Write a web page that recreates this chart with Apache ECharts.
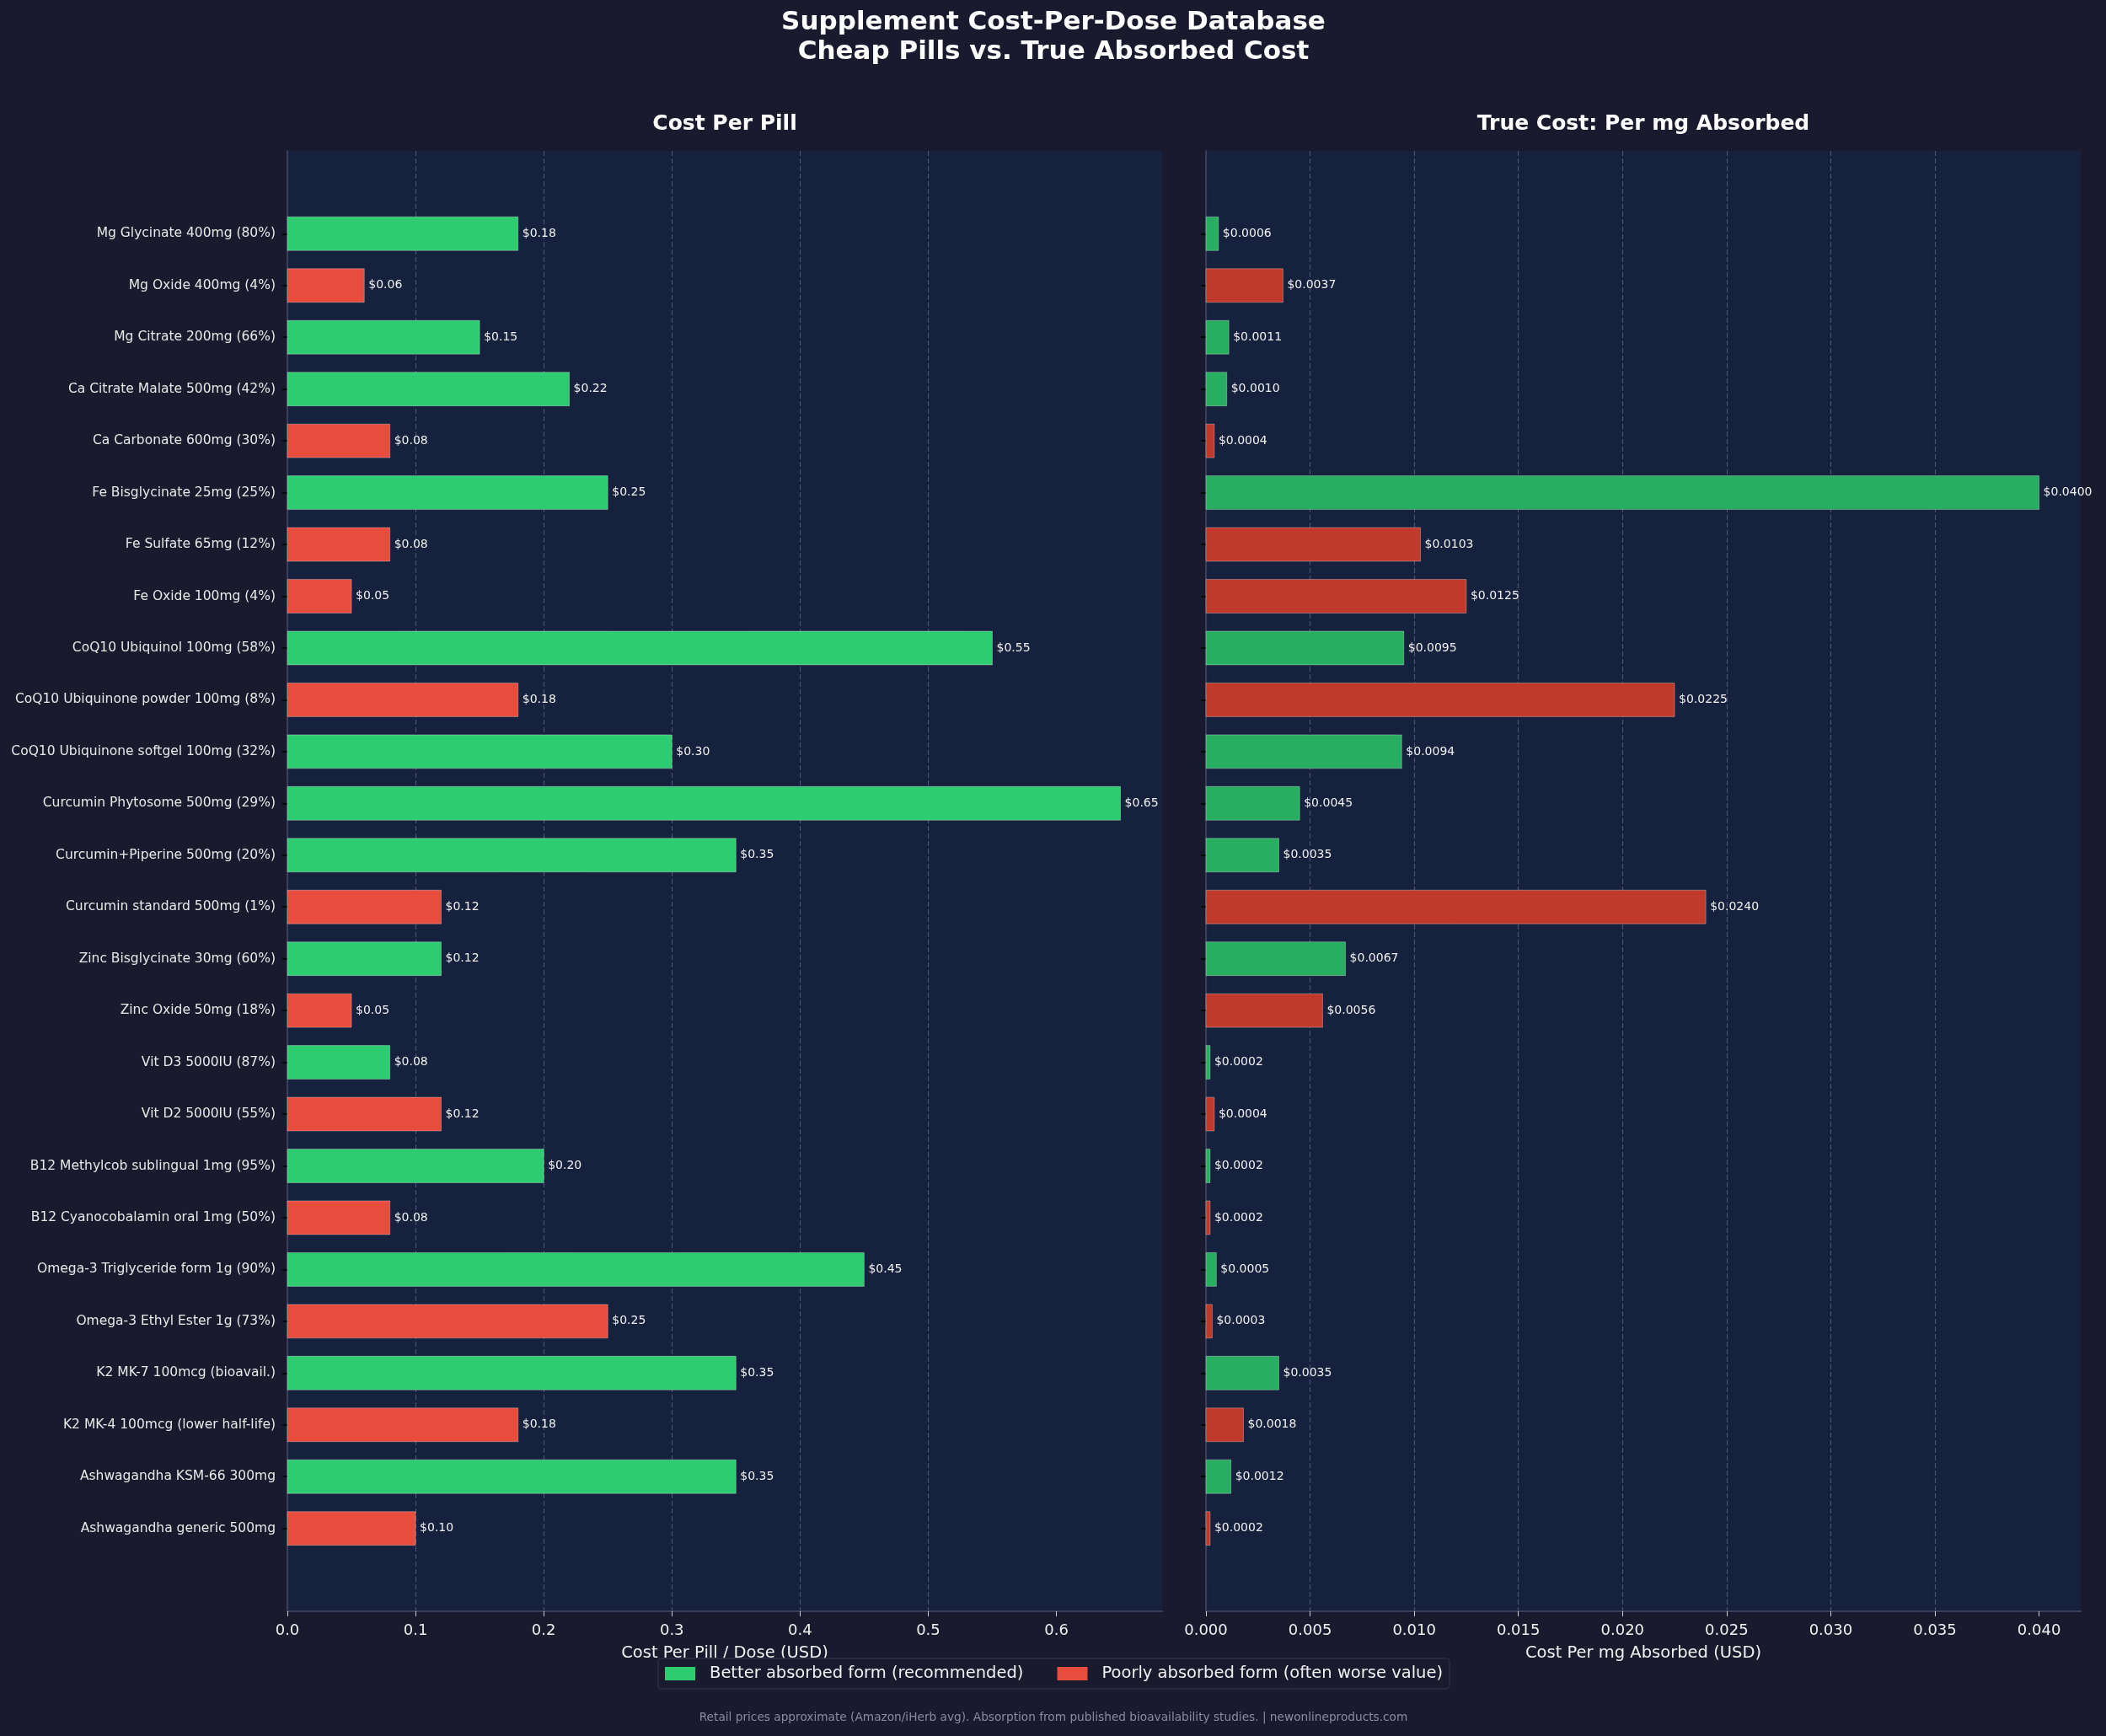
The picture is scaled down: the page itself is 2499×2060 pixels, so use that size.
<!DOCTYPE html>
<html>
<head>
<meta charset="utf-8">
<script src="https://cdn.jsdelivr.net/npm/echarts@6/dist/echarts.min.js"></script>
<style>
  html, body { margin: 0; padding: 0; background: #1a1a2e; }
  #chart { width: 2499px; height: 2060px; }
</style>
</head>
<body>
<div id="chart"></div>
<script>
const names = [
  "Mg Glycinate 400mg (80%)",
  "Mg Oxide 400mg (4%)",
  "Mg Citrate 200mg (66%)",
  "Ca Citrate Malate 500mg (42%)",
  "Ca Carbonate 600mg (30%)",
  "Fe Bisglycinate 25mg (25%)",
  "Fe Sulfate 65mg (12%)",
  "Fe Oxide 100mg (4%)",
  "CoQ10 Ubiquinol 100mg (58%)",
  "CoQ10 Ubiquinone powder 100mg (8%)",
  "CoQ10 Ubiquinone softgel 100mg (32%)",
  "Curcumin Phytosome 500mg (29%)",
  "Curcumin+Piperine 500mg (20%)",
  "Curcumin standard 500mg (1%)",
  "Zinc Bisglycinate 30mg (60%)",
  "Zinc Oxide 50mg (18%)",
  "Vit D3 5000IU (87%)",
  "Vit D2 5000IU (55%)",
  "B12 Methylcob sublingual 1mg (95%)",
  "B12 Cyanocobalamin oral 1mg (50%)",
  "Omega-3 Triglyceride form 1g (90%)",
  "Omega-3 Ethyl Ester 1g (73%)",
  "K2 MK-7 100mcg (bioavail.)",
  "K2 MK-4 100mcg (lower half-life)",
  "Ashwagandha KSM-66 300mg",
  "Ashwagandha generic 500mg"
];
const pillCost = [0.18, 0.06, 0.15, 0.22, 0.08, 0.25, 0.08, 0.05, 0.55, 0.18, 0.30, 0.65, 0.35,
  0.12, 0.12, 0.05, 0.08, 0.12, 0.20, 0.08, 0.45, 0.25, 0.35, 0.18, 0.35, 0.10];
const absorbedCost = [0.0006, 0.0037, 0.0011, 0.0010, 0.0004, 0.0400, 0.0103, 0.0125, 0.0095, 0.0225,
  0.0094, 0.0045, 0.0035, 0.0240, 0.0067, 0.0056, 0.0002, 0.0004, 0.0002, 0.0002, 0.0005, 0.0003,
  0.0035, 0.0018, 0.0012, 0.0002];
// 1 = better absorbed form, 0 = poorly absorbed
const betterForm = [1, 0, 1, 1, 0, 1, 0, 0, 1, 0, 1, 1, 1, 0, 1, 0, 1, 0, 1, 0, 1, 0, 1, 0, 1, 0];
const pillTicks = [0, 0.1, 0.2, 0.3, 0.4, 0.5, 0.6];
const absorbedTicks = [0, 0.005, 0.01, 0.015, 0.02, 0.025, 0.03, 0.035, 0.04];

const GOOD = "Better absorbed form (recommended)";
const POOR = "Poorly absorbed form (often worse value)";
const FONT = '"DejaVu Sans", "Liberation Sans", sans-serif';
const rowIdx = names.map((n, i) => i);

const chart = echarts.init(document.getElementById("chart"), null, { renderer: "canvas" });

function pick(values, flag) {
  return values.map((v, i) => [v, i]).filter((d) => betterForm[d[1]] === flag);
}

function barRenderer(decimals) {
  return (params, api) => {
    const v = api.value(0);
    const i = api.value(1);
    const a = api.coord([0, i - 0.325]);
    const b = api.coord([v, i + 0.325]);
    const y = Math.min(a[1], b[1]);
    const h = Math.abs(b[1] - a[1]);
    return {
      type: "group",
      children: [
        {
          type: "rect",
          shape: { x: a[0], y: y, width: b[0] - a[0], height: h },
          style: { fill: api.visual("color"), stroke: "rgba(255,255,255,0.3)", lineWidth: 1 },
        },
        {
          type: "text",
          x: b[0] + 5,
          y: y + h / 2,
          style: {
            text: "$" + v.toFixed(decimals),
            fill: "#f0f0f0",
            fontSize: 14,
            fontFamily: FONT,
            align: "left",
            verticalAlign: "middle",
          },
        },
      ],
    };
  };
}

function xAxisFor(gridIndex, max, ticks, digits, title) {
  return {
    type: "value",
    gridIndex: gridIndex,
    min: 0,
    max: max,
    axisLine: { show: true, onZero: false, lineStyle: { color: "#3b3d5c", width: 2 } },
    axisTick: { show: true, customValues: ticks, length: 6, lineStyle: { color: "#d0d0d0" } },
    axisLabel: {
      customValues: ticks,
      formatter: (v) => v.toFixed(digits),
      color: "#f0f0f0",
      fontSize: 18,
      fontFamily: FONT,
      margin: 14,
    },
    splitLine: {
      show: true,
      showMaxLine: false,
      lineStyle: { color: "#4a5272", type: [6, 3], width: 1.2 },
    },
    name: title,
    nameLocation: "middle",
    nameGap: 50,
    nameTextStyle: { color: "#f0f0f0", fontSize: 19.5, fontFamily: FONT, verticalAlign: "middle" },
  };
}

function yAxisFor(gridIndex, showLabels) {
  return {
    type: "value",
    gridIndex: gridIndex,
    inverse: true,
    min: -1.6,
    max: 26.6,
    axisLine: { show: true, lineStyle: { color: "#3b3d5c", width: 2 } },
    axisTick: { show: true, customValues: rowIdx, length: 6, lineStyle: { color: "#000000", width: 1.5 } },
    axisLabel: {
      show: showLabels,
      customValues: rowIdx,
      formatter: (v) => names[Math.round(v)] || "",
      color: "#e8e8e8",
      fontSize: 15.5,
      fontFamily: FONT,
      margin: 14,
    },
    splitLine: { show: false },
  };
}

function barSeries(name, axisIndex, values, flag, color, decimals) {
  return {
    type: "custom",
    name: name,
    xAxisIndex: axisIndex,
    yAxisIndex: axisIndex,
    data: pick(values, flag),
    encode: { x: 0, y: 1 },
    itemStyle: { color: color },
    renderItem: barRenderer(decimals),
    clip: false,
    silent: true,
  };
}

const option = {
  backgroundColor: "#1a1a2e",
  animation: false,
  title: [
    {
      text: "Supplement Cost-Per-Dose Database\nCheap Pills vs. True Absorbed Cost",
      left: 1250,
      top: 9,
      textAlign: "center",
      padding: 0,
      textStyle: { color: "#ffffff", fontSize: 31, fontWeight: "bold", fontFamily: FONT, lineHeight: 35.5 },
    },
    {
      text: "Cost Per Pill",
      left: 860,
      top: 135,
      textAlign: "center",
      padding: 0,
      textStyle: { color: "#ffffff", fontSize: 25, fontWeight: "bold", fontFamily: FONT, lineHeight: 25 },
    },
    {
      text: "True Cost: Per mg Absorbed",
      left: 1950,
      top: 135,
      textAlign: "center",
      padding: 0,
      textStyle: { color: "#ffffff", fontSize: 25, fontWeight: "bold", fontFamily: FONT, lineHeight: 25 },
    },
    {
      text: "Retail prices approximate (Amazon/iHerb avg). Absorption from published bioavailability studies. | newonlineproducts.com",
      left: 1250,
      top: 2030,
      textAlign: "center",
      padding: 0,
      textStyle: { color: "#8a8aa2", fontSize: 13.7, fontWeight: "normal", fontFamily: FONT, lineHeight: 16 },
    },
  ],
  legend: {
    data: [
      { name: GOOD, icon: "rect" },
      { name: POOR, icon: "rect" },
    ],
    left: 781,
    top: 1968,
    orient: "horizontal",
    itemWidth: 36,
    itemHeight: 16,
    itemGap: 40,
    padding: [8, 8],
    backgroundColor: "#1a1a2e",
    borderColor: "#2c2c46",
    borderWidth: 1.5,
    borderRadius: 4,
    selectedMode: false,
    textStyle: { color: "#f0f0f0", fontSize: 19.5, fontFamily: FONT, padding: [0, 0, 0, 12] },
  },
  grid: [
    { left: 341, top: 179, width: 1038, height: 1733, show: true, backgroundColor: "#16213e", borderWidth: 0 },
    { left: 1431, top: 179, width: 1038, height: 1733, show: true, backgroundColor: "#16213e", borderWidth: 0 },
  ],
  xAxis: [
    xAxisFor(0, 0.6825, pillTicks, 1, "Cost Per Pill / Dose (USD)"),
    xAxisFor(1, 0.042, absorbedTicks, 3, "Cost Per mg Absorbed (USD)"),
  ],
  yAxis: [yAxisFor(0, true), yAxisFor(1, false)],
  series: [
    barSeries(GOOD, 0, pillCost, 1, "#2ecc71", 2),
    barSeries(POOR, 0, pillCost, 0, "#e74c3c", 2),
    barSeries(GOOD, 1, absorbedCost, 1, "#27ae60", 4),
    barSeries(POOR, 1, absorbedCost, 0, "#c0392b", 4),
  ],
};

chart.setOption(option);
</script>
</body>
</html>
